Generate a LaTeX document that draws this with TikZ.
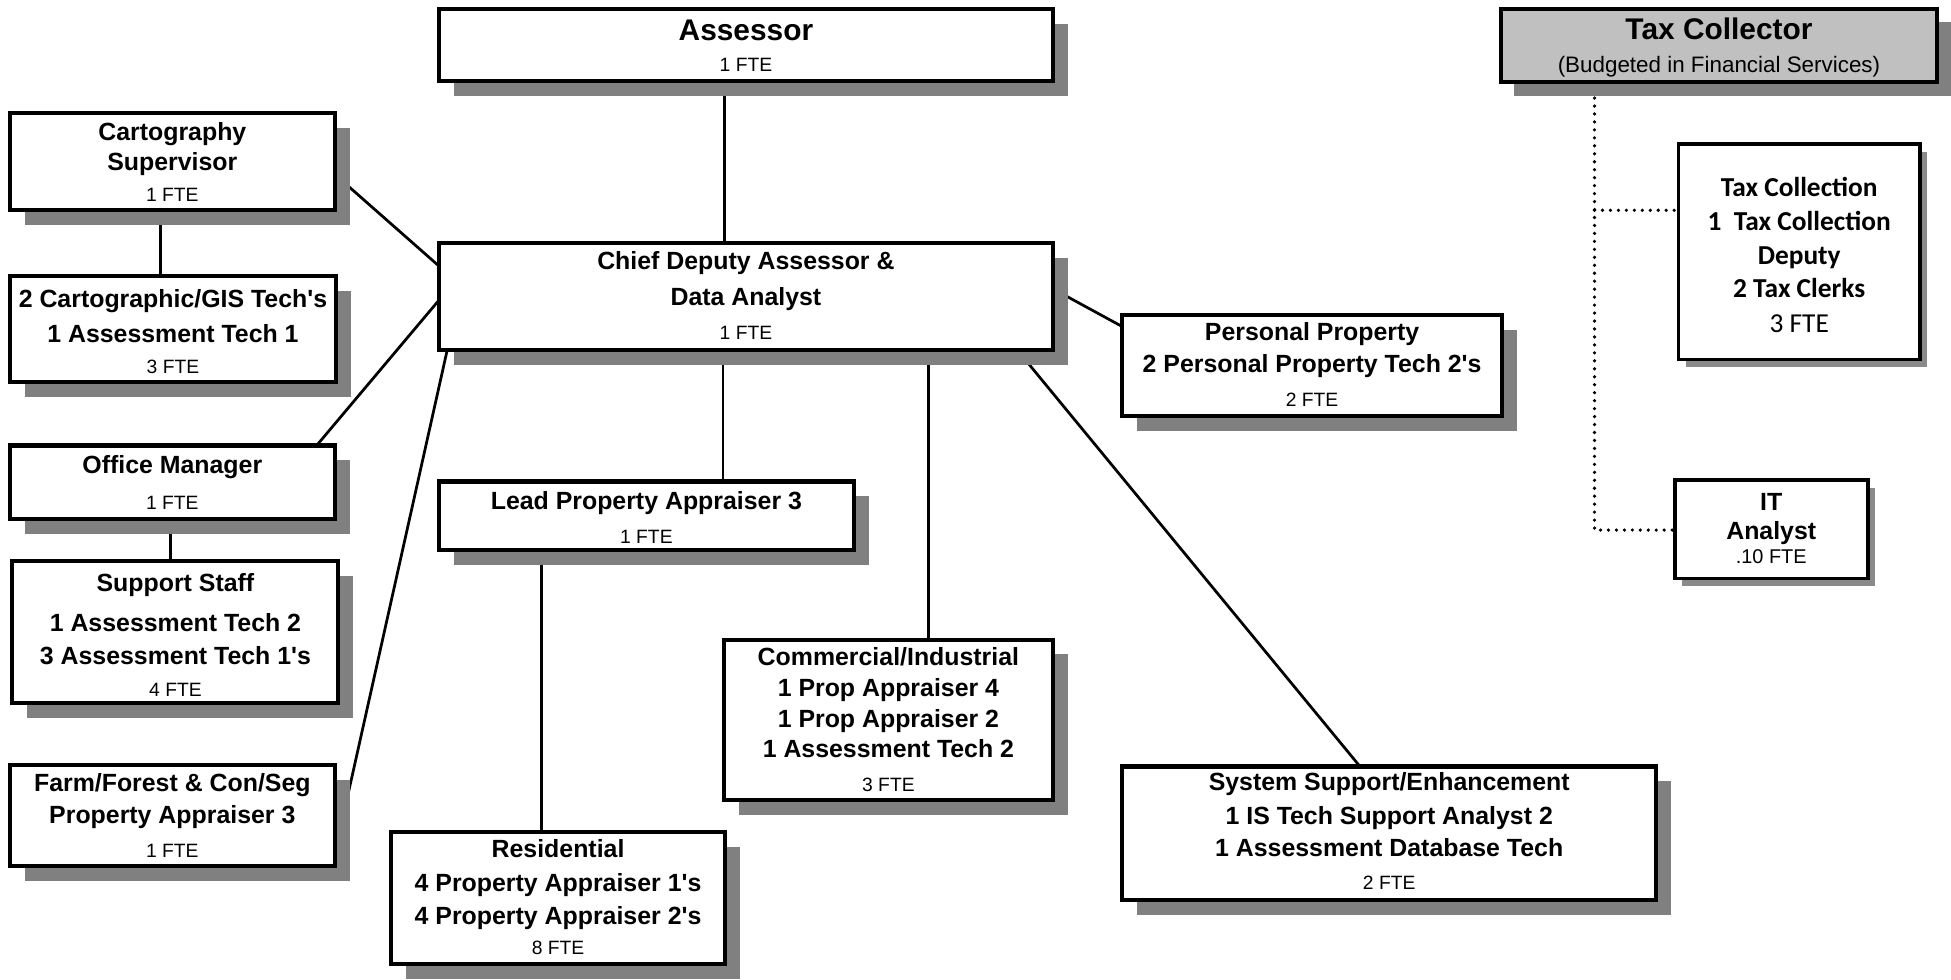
\documentclass[tikz,border=0pt]{standalone}
\usepackage{fontspec}
\setmainfont{Liberation Sans}
\newfontfamily\carlitofont{Carlito}
\usetikzlibrary{shadows}
\pgfdeclarelayer{background}
\pgfsetlayers{background,main}
\definecolor{shad}{HTML}{808080}
\definecolor{shadlt}{HTML}{8A8A8A}
\definecolor{taxfill}{HTML}{C0C0C0}
\newcommand{\q}{\textquotesingle}
\begin{document}
\begin{tikzpicture}[x=1pt,y=-1pt,
  boxbase/.style={draw=black, line width=3.3pt, fill=white, rectangle, inner sep=0pt, outer sep=0pt, anchor=north west},
  box/.style={boxbase, drop shadow={shadow xshift=12pt, shadow yshift=-12pt, opacity=1, fill=shad}},
  taxbox/.style={boxbase, fill=taxfill, drop shadow={shadow xshift=11pt, shadow yshift=-11pt, opacity=1, fill=shad}},
  smallbox/.style={boxbase, line width=3pt, drop shadow={shadow xshift=6pt, shadow yshift=-6pt, opacity=1, fill=shadlt}},
  conn/.style={draw=black, line width=2.2pt},
  dotl/.style={draw=black, line width=2.9pt, line cap=round, dash pattern=on 0pt off 6.4pt},
  ttl/.style={font=\fontsize{24}{28}\selectfont\bfseries, anchor=base, yshift=-8.6pt, inner sep=0pt},
  bld/.style={font=\fontsize{20}{24}\selectfont\bfseries, anchor=base, yshift=-7.16pt, inner sep=0pt},
  fte/.style={font=\fontsize{15.5}{18}\selectfont, anchor=base, yshift=-5.55pt, inner sep=0pt},
  bud/.style={font=\fontsize{18}{21}\selectfont, anchor=base, yshift=-6.44pt, inner sep=0pt},
  cbl/.style={font=\carlitofont\fontsize{22}{26}\selectfont\bfseries, anchor=base, yshift=-7.08pt, inner sep=0pt},
  cfte/.style={font=\carlitofont\fontsize{22}{26}\selectfont, anchor=base, yshift=-7.08pt, inner sep=0pt},
  ite/.style={font=\fontsize{16}{19}\selectfont, anchor=base, yshift=-5.73pt, inner sep=0pt}
]
\useasboundingbox (0,0) rectangle (1568,787);

% boxes
\node[box, minimum width=493pt, minimum height=58pt] (assessor) at (353,7) {};
\node[box, minimum width=493pt, minimum height=86pt] (chief) at (353,195) {};
\node[box, minimum width=261pt, minimum height=78pt] (carto) at (8,91) {};
\node[box, minimum width=262pt, minimum height=85pt] (gis) at (8,222) {};
\node[box, minimum width=261pt, minimum height=59pt] (office) at (8,358) {};
\node[box, minimum width=262pt, minimum height=114pt] (support) at (10,451) {};
\node[box, minimum width=261pt, minimum height=81pt] (farm) at (8,615) {};
\node[box, minimum width=333pt, minimum height=55pt] (lead) at (353,387) {};
\node[box, minimum width=269pt, minimum height=106pt] (res) at (314,669) {};
\node[box, minimum width=264pt, minimum height=129pt] (comm) at (582,514) {};
\node[box, minimum width=429pt, minimum height=107pt] (sys) at (902,616) {};
\node[box, minimum width=305pt, minimum height=81pt] (pers) at (902,253) {};
\node[taxbox, minimum width=351pt, minimum height=59pt] (taxcoll) at (1206,7) {};
\node[smallbox, minimum width=194pt, minimum height=173pt] (tcn) at (1349,116) {};
\node[smallbox, minimum width=155pt, minimum height=79pt] (it) at (1346,386) {};

% texts
\node[ttl] (t-as1) at (599.5,24) {Assessor};
\node[fte] (t-as2) at (599.5,51.6) {1 FTE};

\node[bld] (t-ch1) at (599.5,209.4) {Chief Deputy Assessor \&};
\node[bld] (t-ch2) at (599.5,238) {Data Analyst};
\node[fte] (t-ch3) at (599.5,267.2) {1 FTE};

\node[bld] (t-ca1) at (138.5,105.5) {Cartography};
\node[bld] (t-ca2) at (138.5,129.7) {Supervisor};
\node[fte] (t-ca3) at (138.5,156.7) {1 FTE};

\node[bld] (t-gi1) at (139,240) {2 Cartographic/GIS Tech\q s};
\node[bld] (t-gi2) at (139,267.9) {1 Assessment Tech 1};
\node[fte] (t-gi3) at (139,294.7) {3 FTE};

\node[bld] (t-of1) at (138.5,373.4) {Office Manager};
\node[fte] (t-of2) at (138.5,403.8) {1 FTE};

\node[bld] (t-su1) at (141,468.3) {Support Staff};
\node[bld] (t-su2) at (141,500.6) {1 Assessment Tech 2};
\node[bld] (t-su3) at (141,527.2) {3 Assessment Tech 1\q s};
\node[fte] (t-su4) at (141,554) {4 FTE};

\node[bld] (t-fa1) at (138.5,629.3) {Farm/Forest \& Con/Seg};
\node[bld] (t-fa2) at (138.5,655) {Property Appraiser 3};
\node[fte] (t-fa3) at (138.5,683.3) {1 FTE};

\node[bld] (t-le1) at (519.5,402.4) {Lead Property Appraiser 3};
\node[fte] (t-le2) at (519.5,431) {1 FTE};

\node[bld] (t-re1) at (448.5,681.8) {Residential};
\node[bld] (t-re2) at (448.5,709.4) {4 Property Appraiser 1\q s};
\node[bld] (t-re3) at (448.5,736.1) {4 Property Appraiser 2\q s};
\node[fte] (t-re4) at (448.5,761.9) {8 FTE};

\node[bld] (t-co1) at (714,527.8) {Commercial/Industrial};
\node[bld] (t-co2) at (714,552.3) {1 Prop Appraiser 4};
\node[bld] (t-co3) at (714,577.3) {1 Prop Appraiser 2};
\node[bld] (t-co4) at (714,601.6) {1 Assessment Tech 2};
\node[fte] (t-co5) at (714,630.3) {3 FTE};

\node[bld] (t-sy1) at (1116.5,628.5) {System Support/Enhancement};
\node[bld] (t-sy2) at (1116.5,655.5) {1 IS Tech Support Analyst 2};
\node[bld] (t-sy3) at (1116.5,681.2) {1 Assessment Database Tech};
\node[fte] (t-sy4) at (1116.5,709.7) {2 FTE};

\node[bld] (t-pe1) at (1054.5,266.5) {Personal Property};
\node[bld] (t-pe2) at (1054.5,292) {2 Personal Property Tech 2\q s};
\node[fte] (t-pe3) at (1054.5,321) {2 FTE};

\node[ttl] (t-tx1) at (1381.5,23.4) {Tax Collector};
\node[bud] (t-tx2) at (1381.5,51.7) {(Budgeted in Financial Services)};

\node[cbl] (t-tc1) at (1446,150.5) {Tax Collection};
\node[cbl] (t-tc2) at (1446,177.8) {1\ \ Tax Collection};
\node[cbl] (t-tc3) at (1446,205.3) {Deputy};
\node[cbl] (t-tc4) at (1446,232.4) {2 Tax Clerks};
\node[cfte] (t-tc5) at (1446,260.5) {3 FTE};

\node[bld] (t-it1) at (1423.5,402.9) {IT};
\node[bld] (t-it2) at (1423.5,426.8) {Analyst};
\node[ite] (t-it3) at (1423.5,447.5) {.10 FTE};

\coordinate (tj) at (1281.5,169);

% connectors
\begin{pgfonlayer}{background}
\draw[conn] ([xshift=229.5pt]assessor.south west) -- ([xshift=229.5pt]chief.north west);
\draw[conn] ([xshift=121pt]carto.south west) -- ([xshift=121pt]gis.north west);
\draw[conn] ([yshift=-49pt]carto.north east) -- ([yshift=-19pt]chief.north west);
\draw[conn] ([yshift=-46pt]chief.north west) -- ([xshift=246.5pt]office.north west);
\draw[conn] ([xshift=129pt]office.south west) -- ([xshift=127pt]support.north west);
\draw[conn] ([xshift=6.5pt]chief.south west) -- ([xshift=7pt,yshift=-40pt]farm.north east);
\draw[conn] ([xshift=228pt]chief.south west) -- ([xshift=228pt]lead.north west);
\draw[conn] ([xshift=82pt]lead.south west) -- ([xshift=121pt]res.north west);
\draw[conn] ([xshift=393pt]chief.south west) -- ([xshift=164pt]comm.north west);
\draw[conn] ([xshift=464.3pt]chief.south west) -- ([xshift=191pt]sys.north west);
\draw[conn] ([yshift=-37pt]chief.north east) -- ([yshift=-9.5pt]pers.north west);
\draw[dotl] ([xshift=75.5pt]taxcoll.south west) |- ([yshift=-40pt]it.north west);
\draw[dotl] (tj) -- ([yshift=-53pt]tcn.north west);
\end{pgfonlayer}
\end{tikzpicture}
\end{document}
